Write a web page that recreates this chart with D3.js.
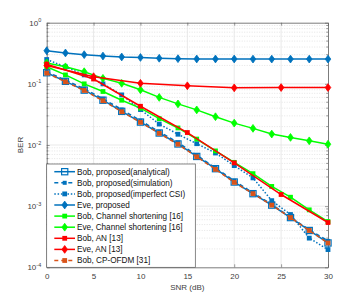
<!DOCTYPE html>
<html>
<head>
<meta charset="utf-8">
<script src="https://cdn.jsdelivr.net/npm/d3@7"></script>
<style>
  body { margin: 0; background: #fff; }
  svg { font-family: "Liberation Sans", Arial, sans-serif; }
</style>
</head>
<body>
<svg id="ber_chart"></svg>
<script>
// SNR points
const snr2 = [0, 2, 4, 6, 8, 10, 12, 14, 16, 18, 20, 22, 24, 26, 28, 30];
const snr5 = [0, 5, 10, 15, 20, 25, 30];

// BER values
const bobAnalytical = [0.152, 0.11, 0.079, 0.054, 0.0355, 0.0237, 0.0157, 0.0104, 0.0065, 0.0041, 0.00248, 0.0016, 0.00104, 0.00065, 0.0004, 0.00025];
const bobSimulation = [0.158, 0.115, 0.083, 0.057, 0.038, 0.025, 0.0165, 0.011, 0.0068, 0.0042, 0.0026, 0.00165, 0.00107, 0.00066, 0.00041, 0.00027];
const bobImperfect = [0.25, 0.19, 0.14, 0.1, 0.066, 0.038, 0.022, 0.015, 0.0105, 0.0074, 0.0046, 0.0029, 0.00123, 0.00073, 0.0003, 0.000195];
const eveProposed = [0.348, 0.32, 0.3, 0.285, 0.275, 0.27, 0.262, 0.258, 0.255, 0.255, 0.255, 0.254, 0.254, 0.254, 0.254, 0.254];
const bobCS = [0.19, 0.14, 0.1, 0.075, 0.054, 0.04, 0.027, 0.019, 0.0125, 0.008, 0.0052, 0.0034, 0.0021, 0.0014, 0.00087, 0.00056];
const eveCS = [0.22, 0.19, 0.158, 0.123, 0.102, 0.08, 0.06, 0.047, 0.0375, 0.029, 0.0228, 0.0187, 0.0151, 0.0133, 0.0117, 0.0103];
const bobAN = [0.21, 0.12, 0.043, 0.016, 0.0051, 0.00155, 0.00054];
const eveAN = [0.2, 0.131, 0.102, 0.093, 0.086, 0.087, 0.087];
const bobCPOFDM = [0.15, 0.108, 0.078, 0.053, 0.035, 0.0235, 0.0155, 0.0103, 0.0064, 0.004, 0.00245, 0.0016, 0.00104, 0.00065, 0.0004, 0.00025];

// Axis ticks
const xTicks = [0, 5, 10, 15, 20, 25, 30];
const yExponents = [0, -1, -2, -3, -4];

const blue = "#0072BD", orange = "#D95319", green = "#00FF00", red = "#FF0000";

// series: label, x, y, colour, dash, marker
const series = [
  {name: "Bob, proposed(analytical)", x: snr2, y: bobAnalytical, color: blue, dash: null, marker: "squareOpen"},
  {name: "Bob, proposed(simulation)", x: snr2, y: bobSimulation, color: blue, dash: "4,3", marker: "squareSmall"},
  {name: "Bob, proposed(imperfect CSI)", x: snr2, y: bobImperfect, color: blue, dash: "1.5,1.8", marker: "square"},
  {name: "Eve, proposed", x: snr2, y: eveProposed, color: blue, dash: null, marker: "diamond"},
  {name: "Bob, Channel shortening [16]", x: snr2, y: bobCS, color: green, dash: null, marker: "square"},
  {name: "Eve, Channel shortening [16]", x: snr2, y: eveCS, color: green, dash: null, marker: "diamond"},
  {name: "Bob, AN [13]", x: snr5, y: bobAN, color: red, dash: null, marker: "square"},
  {name: "Eve, AN [13]", x: snr5, y: eveAN, color: red, dash: null, marker: "diamond"},
  {name: "Bob, CP-OFDM [31]", x: snr2, y: bobCPOFDM, color: orange, dash: "4,3", marker: "square"}
];

const W = 363, H = 300;
let margin = {top: 22.7, right: 35, bottom: 32.7, left: 46.7},
    width = W - margin.left - margin.right,
    height = H - margin.top - margin.bottom;

let svg = d3.select("#ber_chart").attr("width", W).attr("height", H);
let g = svg.append("g").attr("transform", "translate(" + margin.left + "," + margin.top + ")");

let x = d3.scaleLinear().domain([0, 30]).range([0, width]);
let y = d3.scaleLog().domain([1e-4, 1]).range([height, 0]);

// Grid lines
let minorY = [];
for (let e = -4; e < 0; e++) for (let k = 2; k <= 9; k++) minorY.push(k * Math.pow(10, e));
g.append("g").selectAll("line").data(minorY).join("line")
  .attr("x1", 0).attr("x2", width)
  .attr("y1", d => y(d)).attr("y2", d => y(d))
  .attr("stroke", "#d4d4d4").attr("stroke-width", 0.6).attr("stroke-dasharray", "1,1.5");
g.append("g").selectAll("line").data(yExponents.slice(1, 4)).join("line")
  .attr("x1", 0).attr("x2", width)
  .attr("y1", d => y(Math.pow(10, d))).attr("y2", d => y(Math.pow(10, d)))
  .attr("stroke", "#e3e3e3").attr("stroke-width", 0.8);
g.append("g").selectAll("line").data(xTicks.slice(1, 6)).join("line")
  .attr("x1", d => x(d)).attr("x2", d => x(d))
  .attr("y1", 0).attr("y2", height)
  .attr("stroke", "#e3e3e3").attr("stroke-width", 0.8);

// Axes (ticks point inward)
const axisColor = "#5a5a5a";
let xAxis = g.append("g").attr("transform", "translate(0," + height + ")")
  .call(d3.axisBottom(x).tickValues(xTicks).tickSizeInner(-3).tickSizeOuter(0).tickPadding(6));
let xAxisTop = g.append("g")
  .call(d3.axisTop(x).tickValues(xTicks).tickSizeInner(-3).tickSizeOuter(0).tickFormat(""));
let yAxis = g.append("g")
  .call(d3.axisLeft(y).tickValues(yExponents.map(e => Math.pow(10, e))).tickSizeInner(-3).tickSizeOuter(0).tickPadding(5).tickFormat(""));
let yAxisRight = g.append("g").attr("transform", "translate(" + width + ",0)")
  .call(d3.axisRight(y).tickValues(yExponents.map(e => Math.pow(10, e))).tickSizeInner(-3).tickSizeOuter(0).tickFormat(""));
[yAxis, yAxisRight].forEach((ax, i) => {
  ax.append("g").selectAll("line").data(minorY).join("line")
    .attr("x1", 0).attr("x2", i === 0 ? 1.8 : -1.8)
    .attr("y1", d => y(d)).attr("y2", d => y(d))
    .attr("stroke", axisColor).attr("stroke-width", 0.6);
});
[xAxis, xAxisTop, yAxis, yAxisRight].forEach(ax => {
  ax.select(".domain").attr("stroke", axisColor).attr("stroke-width", 0.8);
  ax.selectAll(".tick line").attr("stroke", axisColor).attr("stroke-width", 0.6);
  ax.selectAll("text").attr("fill", "#404040").attr("font-size", 8).attr("font-family", "'Liberation Sans', Arial, sans-serif");
});

// y tick labels as 10^e
yAxis.selectAll(".tick").each(function(d) {
  let t = d3.select(this).select("text");
  t.attr("font-size", 8).attr("x", -5.5);
  t.append("tspan").text("10");
  t.append("tspan").attr("dy", -3.5).attr("font-size", 5.5).text(Math.round(Math.log10(d)));
});

// Axis labels
g.append("text").attr("x", width / 2).attr("y", height + 23)
  .attr("text-anchor", "middle").attr("font-size", 8).attr("fill", "#404040").text("SNR (dB)");
g.append("text").attr("transform", "translate(" + (-24) + "," + (height / 2) + ") rotate(-90)")
  .attr("text-anchor", "middle").attr("font-size", 8).attr("fill", "#404040").text("BER");

// Marker drawing
function drawMarker(sel, type, color) {
  if (type === "diamond") {
    sel.append("path").attr("d", "M0,-3.9L2.8,0L0,3.9L-2.8,0Z")
      .attr("fill", color).attr("stroke", color).attr("stroke-width", 0.8);
  } else if (type === "squareOpen") {
    sel.append("rect").attr("x", -3.1).attr("y", -3.1).attr("width", 6.2).attr("height", 6.2)
      .attr("fill", "none").attr("stroke", color).attr("stroke-width", 1.2);
  } else if (type === "squareSmall") {
    sel.append("rect").attr("x", -2).attr("y", -2).attr("width", 4).attr("height", 4)
      .attr("fill", color);
  } else {
    sel.append("rect").attr("x", -2.4).attr("y", -2.4).attr("width", 4.8).attr("height", 4.8)
      .attr("fill", color);
  }
}

let line = d3.line().x(d => x(d[0])).y(d => y(d[1]));

series.forEach(s => {
  let pts = s.x.map((v, i) => [v, s.y[i]]);
  g.append("path").datum(pts)
    .attr("d", line)
    .attr("fill", "none")
    .attr("stroke", s.color)
    .attr("stroke-width", 1.5)
    .attr("stroke-dasharray", s.dash);
  g.append("g").selectAll("g").data(pts).join("g")
    .attr("transform", d => "translate(" + x(d[0]) + "," + y(d[1]) + ")")
    .each(function() { drawMarker(d3.select(this), s.marker, s.color); });
});

// Legend (bottom-left)
let lgX = 0, lgW = 148.6, lgH = 103.3, lgY = height - lgH, rowH = 11.1;
let legend = g.append("g").attr("transform", "translate(" + lgX + "," + lgY + ")");
legend.append("rect").attr("width", lgW).attr("height", lgH)
  .attr("fill", "#fff").attr("stroke", "#555").attr("stroke-width", 0.7);
series.forEach((s, i) => {
  let row = legend.append("g").attr("transform", "translate(0," + (7.7 + i * rowH) + ")");
  row.append("line").attr("x1", 7.6).attr("x2", 28.3)
    .attr("stroke", s.color).attr("stroke-width", 1.5).attr("stroke-dasharray", s.dash);
  let m = row.append("g").attr("transform", "translate(18,0)");
  drawMarker(m, s.marker, s.color);
  row.append("text").attr("x", 30.3).attr("y", 2.9)
    .attr("font-size", 8.2).attr("fill", "#111").text(s.name);
});
</script>
</body>
</html>
